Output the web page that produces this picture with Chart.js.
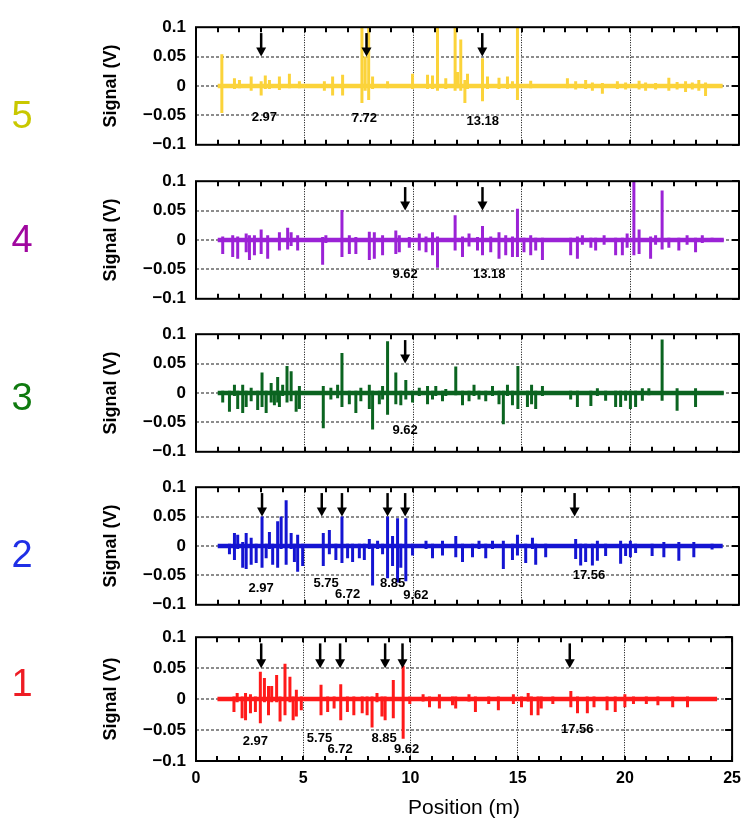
<!DOCTYPE html>
<html>
<head>
<meta charset="utf-8">
<script src="https://cdn.jsdelivr.net/npm/chart.js@4.4.1/dist/chart.umd.min.js"></script>
<style>
  body { margin: 0; background: #fff; width: 749px; height: 823px; position: relative; overflow: hidden; }
  canvas { position: absolute; left: 0; }
  .num { position: absolute; left: 0; width: 44px; text-align: center; line-height: 1;
         font: 38px "Liberation Sans", Arial, sans-serif; }
</style>
</head>
<body>
<script>
// axis ticks
var xTickValues = [0, 5, 10, 15, 20, 25];
var yTickValues = [-0.1, -0.05, 0, 0.05, 0.1];
var yTickLabels = ['\u22120.1', '\u22120.05', '0', '0.05', '0.1'];

// panels, top to bottom
var panelNames = ['5', '4', '3', '2', '1'];
var nameColors = ['#c9c800', '#a0079f', '#0f7a0f', '#1f2fe6', '#ee1c24'];
var traceColors = ['#fbd33a', '#9b22d6', '#0b6420', '#1414d2', '#ff1a1a'];
var traceStart = [1.0, 1.0, 1.0, 1.0, 1.0];
var traceEnd = [24.25, 24.3, 24.3, 24.25, 24.3];

// spikes of each trace: position (m), top and bottom of the spike (V)
var pos5 = [1.19,1.77,2.0,2.54,3.0,3.19,3.38,3.84,4.3,4.76,5.91,6.29,6.75,7.64,7.79,7.95,8.13,8.82,9.97,10.66,10.89,11.12,11.5,11.93,12.04,12.19,12.38,12.5,13.19,13.42,13.95,14.34,14.57,14.8,15.41,17.1,17.48,17.94,18.25,18.71,19.4,19.78,20.4,20.7,21.16,21.77,22.15,22.54,22.85,23.15,23.46];
var up5 = [0.054,0.013,0.01,0.016,0.008,0.018,0.01,0.016,0.021,0.008,0.008,0.016,0.019,0.12,0.05,0.12,0.016,0.008,0.021,0.019,0.018,0.12,0.013,0.12,0.024,0.079,0.01,0.021,0.047,0.016,0.014,0.016,0.008,0.12,0.009,0.013,0.008,0.01,0.006,0.005,0.008,0.006,0.009,0.006,0.005,0.014,0.007,0.008,0.006,0.01,0.006];
var dn5 = [-0.046,-0.005,-0.004,-0.008,-0.016,-0.005,-0.005,-0.007,-0.004,-0.004,-0.008,-0.016,-0.016,-0.029,-0.008,-0.024,-0.005,-0.004,-0.005,-0.005,-0.005,-0.008,-0.005,-0.008,-0.004,-0.008,-0.029,-0.005,-0.026,-0.005,-0.005,-0.005,-0.004,-0.024,-0.004,-0.004,-0.006,-0.005,-0.008,-0.013,-0.005,-0.006,-0.006,-0.008,-0.006,-0.008,-0.006,-0.01,-0.006,-0.008,-0.017];

var pos4 = [1.23,1.69,1.92,2.31,2.46,2.69,3.0,3.3,3.84,4.22,4.38,4.68,5.83,5.98,6.72,7.06,7.36,7.98,8.21,8.59,9.2,9.36,9.82,10.28,10.59,10.89,11.12,11.93,12.27,12.57,12.96,13.19,13.57,13.95,14.26,14.57,14.8,15.1,15.41,15.64,15.95,17.25,17.56,17.79,18.18,18.4,18.79,19.32,19.63,19.85,20.16,20.4,20.93,21.16,21.46,21.77,22.23,22.61,23.0,23.31,23.76];
var up4 = [0.006,0.008,0.006,0.011,0.008,0.008,0.018,0.008,0.013,0.021,0.013,0.008,0.005,0.008,0.051,0.008,0.005,0.014,0.013,0.008,0.016,0.008,0.005,0.011,0.006,0.013,0.006,0.042,0.006,0.011,0.005,0.024,0.006,0.013,0.008,0.006,0.053,0.004,0.008,0.004,0.004,0.004,0.006,0.008,0.004,0.004,0.008,0.004,0.004,0.011,0.12,0.018,0.006,0.008,0.084,0.004,0.004,0.008,0.004,0.008,0.004];
var dn4 = [-0.024,-0.029,-0.032,-0.021,-0.034,-0.026,-0.024,-0.032,-0.018,-0.016,-0.01,-0.018,-0.042,-0.005,-0.029,-0.024,-0.024,-0.034,-0.032,-0.026,-0.024,-0.021,-0.013,-0.018,-0.021,-0.026,-0.047,-0.018,-0.029,-0.011,-0.018,-0.026,-0.021,-0.032,-0.026,-0.029,-0.029,-0.021,-0.026,-0.018,-0.034,-0.026,-0.032,-0.008,-0.013,-0.018,-0.008,-0.026,-0.026,-0.013,-0.026,-0.024,-0.032,-0.008,-0.016,-0.013,-0.018,-0.008,-0.021,-0.005,-0.003];

var pos3 = [1.23,1.54,1.77,1.92,2.15,2.31,2.54,2.84,3.04,3.23,3.46,3.61,3.76,3.84,3.99,4.19,4.38,4.61,4.76,5.86,6.21,6.52,6.72,7.06,7.36,7.59,7.98,8.13,8.44,8.59,8.82,9.2,9.43,9.66,9.97,10.28,10.66,10.89,11.04,11.35,11.5,11.96,12.27,12.57,12.8,13.03,13.34,13.65,13.95,14.15,14.34,14.57,14.82,15.26,15.45,15.64,15.95,17.25,17.56,18.18,18.48,18.86,19.32,19.55,19.78,20.0,20.24,20.55,20.85,21.46,22.15,23.0];
var up3 = [0.004,0.004,0.014,0.004,0.014,0.004,0.009,0.004,0.035,0.004,0.017,0.004,0.027,0.004,0.014,0.046,0.037,0.004,0.012,0.012,0.009,0.014,0.068,0.004,0.004,0.009,0.014,0.004,0.004,0.012,0.088,0.035,0.004,0.022,0.004,0.009,0.012,0.004,0.012,0.004,0.007,0.045,0.004,0.004,0.014,0.004,0.004,0.012,0.004,0.004,0.014,0.004,0.046,0.004,0.014,0.004,0.012,0.004,0.004,0.004,0.008,0.004,0.004,0.004,0.004,0.004,0.004,0.008,0.008,0.091,0.008,0.008];
var dn3 = [-0.016,-0.032,-0.005,-0.027,-0.034,-0.024,-0.014,-0.029,-0.024,-0.034,-0.016,-0.021,-0.016,-0.024,-0.005,-0.016,-0.014,-0.032,-0.027,-0.06,-0.011,-0.009,-0.024,-0.019,-0.034,-0.014,-0.027,-0.062,-0.019,-0.011,-0.037,-0.019,-0.021,-0.011,-0.016,-0.005,-0.019,-0.011,-0.005,-0.014,-0.005,-0.004,-0.021,-0.014,-0.005,-0.011,-0.014,-0.005,-0.019,-0.053,-0.005,-0.021,-0.027,-0.024,-0.019,-0.027,-0.005,-0.011,-0.024,-0.022,-0.005,-0.013,-0.024,-0.024,-0.013,-0.027,-0.024,-0.013,-0.004,-0.013,-0.03,-0.024];

var pos2 = [1.54,1.77,1.92,2.15,2.31,2.54,2.77,3.04,3.23,3.38,3.53,3.76,3.92,4.15,4.38,4.53,4.68,4.91,5.86,6.14,6.44,6.72,6.98,7.21,7.52,7.75,7.98,8.13,8.36,8.59,8.82,9.05,9.28,9.43,9.66,9.97,10.59,10.89,11.35,11.96,12.27,12.73,13.03,13.34,13.65,14.15,14.57,14.8,15.18,15.49,15.64,16.1,17.48,17.71,17.94,18.25,18.48,18.86,19.55,19.78,20.0,20.24,21.0,21.54,22.23,22.92,23.76];
var up2 = [0.004,0.022,0.019,0.007,0.022,0.014,0.004,0.05,0.004,0.024,0.004,0.042,0.05,0.078,0.022,0.004,0.019,0.004,0.022,0.027,0.004,0.05,0.004,0.004,0.004,0.004,0.012,0.004,0.009,0.004,0.05,0.017,0.047,0.004,0.047,0.004,0.009,0.004,0.009,0.017,0.004,0.004,0.009,0.004,0.009,0.009,0.004,0.019,0.004,0.014,0.004,0.004,0.012,0.004,0.004,0.004,0.009,0.004,0.009,0.004,0.009,0.004,0.004,0.007,0.007,0.007,0.004];
var dn2 = [-0.014,-0.024,-0.005,-0.037,-0.039,-0.032,-0.029,-0.037,-0.021,-0.005,-0.032,-0.037,-0.005,-0.032,-0.005,-0.027,-0.044,-0.034,-0.034,-0.014,-0.024,-0.029,-0.021,-0.027,-0.021,-0.024,-0.005,-0.067,-0.005,-0.014,-0.055,-0.034,-0.062,-0.037,-0.06,-0.016,-0.005,-0.021,-0.016,-0.019,-0.027,-0.019,-0.005,-0.021,-0.005,-0.039,-0.024,-0.016,-0.029,-0.005,-0.032,-0.019,-0.022,-0.033,-0.027,-0.033,-0.025,-0.017,-0.03,-0.017,-0.019,-0.012,-0.017,-0.019,-0.025,-0.019,-0.006];

var pos1 = [1.77,1.92,2.15,2.31,2.54,2.77,3.0,3.19,3.38,3.53,3.76,3.92,4.15,4.38,4.53,4.68,4.91,5.83,6.14,6.44,6.75,7.06,7.36,7.75,7.98,8.21,8.44,8.67,8.82,9.2,9.66,9.97,10.59,10.89,11.35,11.96,12.11,12.73,13.03,13.65,14.1,14.8,15.18,15.49,15.64,15.95,16.1,16.64,17.48,17.79,18.25,18.56,19.17,19.55,20.0,20.4,21.0,21.54,22.23,22.92];
var up1 = [0.004,0.01,0.004,0.01,0.008,0.004,0.044,0.034,0.021,0.021,0.039,0.004,0.057,0.036,0.004,0.015,0.004,0.023,0.004,0.004,0.024,0.004,0.004,0.004,0.004,0.004,0.01,0.004,0.004,0.031,0.054,0.004,0.008,0.004,0.008,0.004,0.004,0.008,0.004,0.004,0.004,0.008,0.004,0.01,0.004,0.004,0.004,0.004,0.013,0.004,0.004,0.004,0.004,0.004,0.008,0.004,0.004,0.004,0.004,0.004];
var dn1 = [-0.021,-0.005,-0.031,-0.034,-0.023,-0.021,-0.039,-0.005,-0.026,-0.005,-0.005,-0.036,-0.026,-0.005,-0.034,-0.028,-0.018,-0.026,-0.021,-0.015,-0.034,-0.021,-0.026,-0.023,-0.026,-0.046,-0.005,-0.028,-0.034,-0.031,-0.064,-0.008,-0.004,-0.013,-0.015,-0.01,-0.015,-0.004,-0.021,-0.008,-0.018,-0.008,-0.013,-0.004,-0.026,-0.026,-0.015,-0.008,-0.013,-0.023,-0.023,-0.013,-0.018,-0.021,-0.013,-0.008,-0.008,-0.01,-0.013,-0.013];

var spikePos = [pos5, pos4, pos3, pos2, pos1];
var spikeUp = [up5, up4, up3, up2, up1];
var spikeDn = [dn5, dn4, dn3, dn2, dn1];

// arrows (m) and their value labels
var arrowX = [[3.0, 7.85, 13.18], [9.63, 13.19], [9.63],
              [3.04, 5.79, 6.72, 8.82, 9.63, 17.43], [3.04, 5.79, 6.72, 8.82, 9.63, 17.43]];
var arrowTop = 0.09, arrowTip = 0.05;
var labelText = [['2.97', '7.72', '13.18'], ['9.62', '13.18'], ['9.62'],
                 ['2.97', '5.75', '6.72', '8.85', '9.62', '17.56'], ['2.97', '5.75', '6.72', '8.85', '9.62', '17.56']];
var labelX = [[3.15, 7.75, 13.2], [9.63, 13.5], [9.63],
              [3.0, 5.99, 6.98, 9.05, 10.12, 18.09], [2.77, 5.76, 6.72, 8.77, 9.82, 17.78]];
var labelY = [[-0.054, -0.055, -0.06], [-0.059, -0.059], [-0.0635],
              [-0.072, -0.063, -0.082, -0.064, -0.084, -0.05], [-0.068, -0.063, -0.081, -0.064, -0.082, -0.049]];

var FONT = '"Liberation Sans", Arial, Helvetica, sans-serif';
var boxTops = [21, 175, 328, 481, 631];
var boxH = 130;
var nameCenters = [113, 237, 395, 552, 681];

var decor = {
  id: 'decor',
  afterDatasetsDraw: function(chart, args, opts) {
    var ctx = chart.ctx, a = chart.chartArea, x = chart.scales.x, y = chart.scales.y;
    var p = opts.panel;
    ctx.save();
    ctx.strokeStyle = '#000';
    ctx.lineWidth = 2;
    ctx.beginPath();
    x.ticks.forEach(function(t) {
      var px = Math.round(x.getPixelForValue(t.value));
      ctx.moveTo(px, a.top); ctx.lineTo(px, a.top + 5);
      ctx.moveTo(px, a.bottom); ctx.lineTo(px, a.bottom - 5);
    });
    yTickValues.forEach(function(v) {
      var py = Math.round(y.getPixelForValue(v));
      ctx.moveTo(a.right, py); ctx.lineTo(a.right - 7, py);
    });
    ctx.stroke();
    ctx.strokeRect(a.left, a.top, a.right - a.left, a.bottom - a.top);

    // arrows
    ctx.fillStyle = '#000';
    arrowX[p].forEach(function(v) {
      var px = x.getPixelForValue(v);
      var y0 = y.getPixelForValue(arrowTop), y1 = y.getPixelForValue(arrowTip);
      ctx.lineWidth = 2.5;
      ctx.beginPath(); ctx.moveTo(px, y0); ctx.lineTo(px, y1 - 8); ctx.stroke();
      ctx.beginPath(); ctx.moveTo(px - 5, y1 - 9); ctx.lineTo(px + 5, y1 - 9); ctx.lineTo(px, y1); ctx.closePath(); ctx.fill();
    });
    ctx.font = 'bold 13px ' + FONT;
    ctx.textAlign = 'center';
    ctx.textBaseline = 'middle';
    labelText[p].forEach(function(s, i) {
      ctx.fillText(s, x.getPixelForValue(labelX[p][i]), y.getPixelForValue(labelY[p][i]));
    });
    ctx.restore();
  }
};

function traceData(p) {
  var pts = [];
  for (var i = 0; i < spikePos[p].length; i++) {
    var v = spikePos[p][i];
    pts.push({x: v, y: 0}, {x: v, y: spikeUp[p][i]}, {x: v, y: spikeDn[p][i]}, {x: v, y: 0});
  }
  return pts;
}

panelNames.forEach(function(name, p) {
  var last = p === panelNames.length - 1;
  var padTop = 14, padBottom = last ? 0 : 14, xH = last ? 62 : 0;
  var c = document.createElement('canvas');
  c.width = 749;
  c.height = padTop + boxH + padBottom + xH;
  c.style.top = (boxTops[p] - padTop) + 'px';
  document.body.appendChild(c);

  var lab = document.createElement('div');
  lab.className = 'num';
  lab.textContent = name;
  lab.style.color = nameColors[p];
  lab.style.top = (nameCenters[p] - 19) + 'px';
  document.body.appendChild(lab);

  new Chart(c, {
    type: 'line',
    data: {
      datasets: [{
        data: [{x: traceStart[p], y: 0}, {x: traceEnd[p], y: 0}],
        borderColor: traceColors[p], borderWidth: 4.5, pointRadius: 0
      }, {
        data: traceData(p),
        borderColor: traceColors[p], borderWidth: 3, pointRadius: 0,
        borderJoinStyle: 'bevel', tension: 0
      }]
    },
    options: {
      responsive: false,
      animation: false,
      events: [],
      layout: {padding: {left: 97, right: 10, top: padTop, bottom: padBottom}},
      plugins: {legend: {display: false}, tooltip: {enabled: false}, decor: {panel: p}},
      scales: {
        x: {
          type: 'linear', min: 0, max: 25,
          ticks: {
            stepSize: 1, display: last, autoSkip: false, maxRotation: 0, padding: 8, color: '#000',
            font: {family: FONT, size: 16, weight: 'bold'},
            callback: function(v) { return xTickValues.indexOf(v) >= 0 ? String(v) : ''; }
          },
          grid: {
            drawTicks: false, lineWidth: 1,
            color: function(ctx) {
              var v = ctx.tick ? ctx.tick.value : 0;
              return (v % 5 === 0 && v > 0 && v < 25) ? '#000' : 'rgba(0,0,0,0)';
            }
          },
          border: {display: false, dash: [1, 1.5]},
          title: {display: last, text: 'Position (m)', color: '#000',
                  font: {family: FONT, size: 21}, padding: {top: 0, bottom: 2}},
          afterFit: function(s) { s.height = xH; }
        },
        y: {
          min: -0.1, max: 0.1,
          ticks: {
            stepSize: 0.05, padding: 10, color: '#000',
            font: {family: FONT, size: 17, weight: 'bold'},
            callback: function(v) {
              for (var i = 0; i < yTickValues.length; i++) {
                if (Math.abs(v - yTickValues[i]) < 1e-9) return yTickLabels[i];
              }
              return '';
            }
          },
          grid: {
            drawTicks: false, lineWidth: 2,
            color: function(ctx) {
              var v = ctx.tick ? ctx.tick.value : 0.1;
              return Math.abs(v) < 0.09 ? '#8c8c8c' : 'rgba(0,0,0,0)';
            }
          },
          border: {display: false, dash: [3, 2]},
          title: {display: true, text: 'Signal (V)', color: '#000',
                  font: {family: FONT, size: 18, weight: 'bold'}, padding: {top: 3, bottom: 0}},
          afterFit: function(s) { s.width = 99; }
        }
      }
    },
    plugins: [decor]
  });
});
</script>
</body>
</html>
